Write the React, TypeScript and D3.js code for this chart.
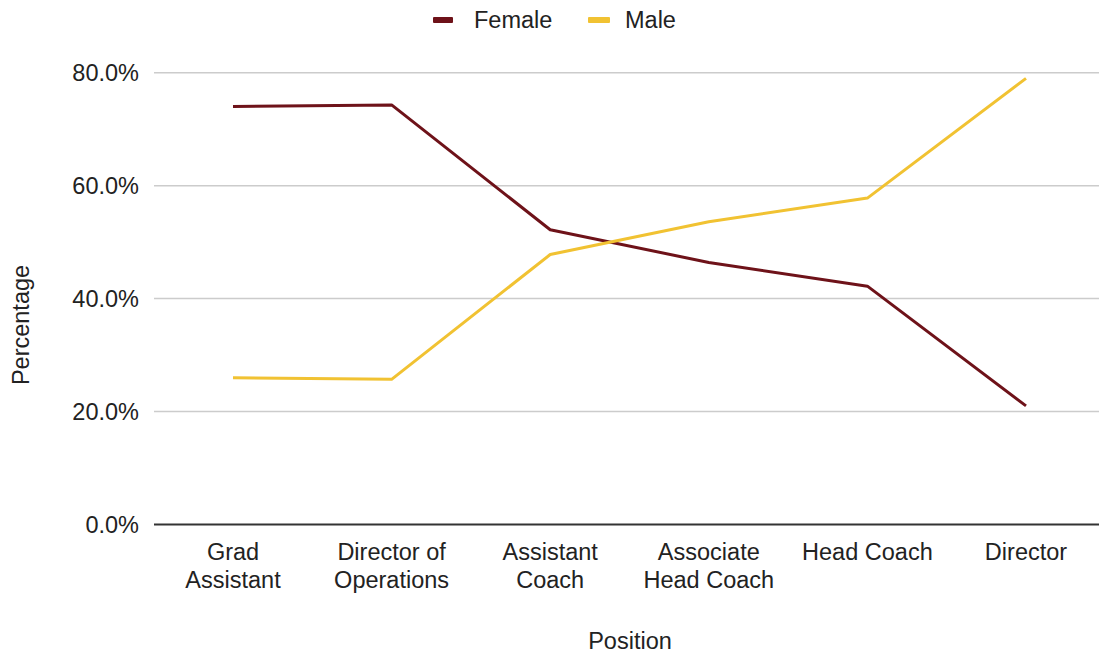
import React from "react";
import * as d3 from "d3";

const categories: string[][] = [
  ["Grad", "Assistant"],
  ["Director of", "Operations"],
  ["Assistant", "Coach"],
  ["Associate", "Head Coach"],
  ["Head Coach"],
  ["Director"],
];
const female = [74.0, 74.3, 52.2, 46.4, 42.2, 21.0];
const male = [26.0, 25.7, 47.8, 53.6, 57.8, 79.0];
const yTicks = [0, 20, 40, 60, 80];
const seriesNames = ["Female", "Male"];
const seriesColors = ["#6e1219", "#f1c232"];

const W = 1099;
const H = 661;
const FONT = "'Liberation Sans', Arial, sans-serif";
const FS = 23.5;

export default function App() {
  const x = d3
    .scalePoint<number>()
    .domain(d3.range(categories.length))
    .range([233, 1026]);
  const y = d3.scaleLinear().domain([0, 80]).range([524.5, 72.7]);
  const line = d3
    .line<number>()
    .x((_, i) => x(i) as number)
    .y((d) => y(d));
  const series = [female, male];

  return (
    <svg
      width={W}
      height={H}
      style={{ position: "absolute", left: 0, top: 0, background: "#fff" }}
      fontFamily={FONT}
    >
      {/* legend */}
      <g>
        <rect x={433} y={17} width={20} height={6} fill={seriesColors[0]} rx={1} />
        <text x={474} y={20} dy="0.35em" fontSize={FS} fill="#222">
          {seriesNames[0]}
        </text>
        <rect x={588} y={17} width={22} height={6} fill={seriesColors[1]} rx={1} />
        <text x={625} y={20} dy="0.35em" fontSize={FS} fill="#222">
          {seriesNames[1]}
        </text>
      </g>
      {/* gridlines */}
      {yTicks.map((t) => (
        <g key={t}>
          {t !== 0 && (
            <line x1={154} x2={1099} y1={y(t)} y2={y(t)} stroke="#cccccc" strokeWidth={1.5} />
          )}
          <text
            x={139}
            y={y(t)}
            dy="0.35em"
            textAnchor="end"
            fontSize={FS}
            fill="#222"
          >
            {t.toFixed(1) + "%"}
          </text>
        </g>
      ))}
      {/* series */}
      {series.map((s, i) => (
        <path
          key={i}
          d={line(s) || ""}
          fill="none"
          stroke={seriesColors[i]}
          strokeWidth={3}
          strokeLinejoin="round"
        />
      ))}
      {/* baseline */}
      <line x1={154} x2={1099} y1={y(0)} y2={y(0)} stroke="#333" strokeWidth={2} />
      {/* category labels */}
      {categories.map((c, i) => (
        <text
          key={i}
          x={x(i)}
          y={552}
          textAnchor="middle"
          fontSize={FS}
          fill="#222"
        >
          {c.map((ln, j) => (
            <tspan key={j} x={x(i)} dy={j === 0 ? "0.35em" : 28}>
              {ln}
            </tspan>
          ))}
        </text>
      ))}
      {/* axis titles */}
      <text x={630} y={641} dy="0.35em" textAnchor="middle" fontSize={FS} fill="#222">
        Position
      </text>
      <text
        transform={`translate(21,325) rotate(-90)`}
        dy="0.35em"
        textAnchor="middle"
        fontSize={FS}
        fill="#222"
      >
        Percentage
      </text>
    </svg>
  );
}
